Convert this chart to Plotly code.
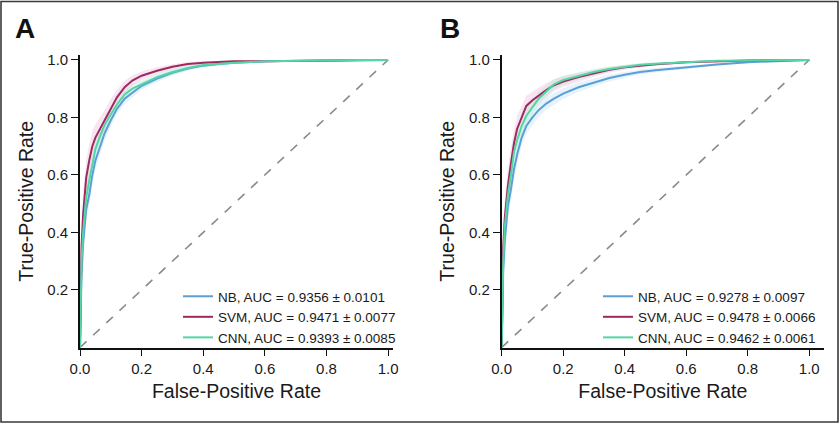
import plotly.graph_objects as go

# ---------------- data ----------------
fpr_grid = [0, 0.002, 0.005, 0.01, 0.015, 0.02, 0.03, 0.04, 0.05, 0.065, 0.08, 0.1, 0.12,
            0.145, 0.17, 0.2, 0.25, 0.3, 0.35, 0.4, 0.45, 0.5, 0.6, 0.7, 0.8, 0.9, 1.0]

# Panel A
a_nb_tpr = [0, 0.12, 0.25, 0.36, 0.43, 0.48, 0.53, 0.60, 0.65, 0.70, 0.745, 0.79, 0.83,
            0.865, 0.885, 0.91, 0.935, 0.955, 0.97, 0.98, 0.986, 0.99, 0.995, 0.997, 0.999, 1.0, 1.0]
a_svm_tpr = [0, 0.20, 0.35, 0.46, 0.54, 0.59, 0.65, 0.70, 0.73, 0.76, 0.79, 0.835, 0.87,
             0.905, 0.928, 0.945, 0.962, 0.976, 0.986, 0.99, 0.993, 0.995, 0.995, 0.996, 0.998, 1.0, 1.0]
a_cnn_tpr = [0, 0.15, 0.30, 0.40, 0.47, 0.52, 0.58, 0.64, 0.69, 0.735, 0.775, 0.81, 0.845,
             0.88, 0.90, 0.915, 0.94, 0.958, 0.972, 0.982, 0.987, 0.99, 0.995, 0.997, 0.999, 1.0, 1.0]
a_nb_std = [0, 0.04, 0.05, 0.05, 0.05, 0.045, 0.04, 0.035, 0.03, 0.028, 0.025, 0.022, 0.02,
            0.018, 0.016, 0.014, 0.012, 0.01, 0.008, 0.006, 0.005, 0.004, 0.003, 0.002, 0.001, 0.001, 0]
a_svm_std = [0, 0.06, 0.07, 0.07, 0.065, 0.06, 0.055, 0.05, 0.045, 0.04, 0.035, 0.03, 0.026,
             0.022, 0.018, 0.015, 0.012, 0.009, 0.007, 0.005, 0.004, 0.003, 0.003, 0.002, 0.002, 0.001, 0]
a_cnn_std = [0, 0.05, 0.06, 0.06, 0.055, 0.05, 0.045, 0.04, 0.035, 0.03, 0.027, 0.024, 0.021,
             0.018, 0.016, 0.014, 0.012, 0.01, 0.008, 0.006, 0.005, 0.004, 0.003, 0.002, 0.001, 0.001, 0]

# Panel B
b_nb_tpr = [0, 0.14, 0.27, 0.37, 0.44, 0.49, 0.55, 0.62, 0.67, 0.73, 0.77, 0.80, 0.825,
            0.848, 0.865, 0.883, 0.905, 0.922, 0.937, 0.948, 0.958, 0.964, 0.975, 0.984, 0.992, 0.997, 1.0]
b_svm_tpr = [0, 0.20, 0.35, 0.45, 0.52, 0.56, 0.64, 0.71, 0.76, 0.80, 0.84, 0.86, 0.877,
             0.895, 0.912, 0.925, 0.94, 0.953, 0.966, 0.974, 0.98, 0.985, 0.992, 0.996, 0.998, 0.999, 1.0]
b_cnn_tpr = [0, 0.17, 0.30, 0.42, 0.49, 0.53, 0.60, 0.68, 0.72, 0.77, 0.805, 0.835, 0.865,
             0.89, 0.915, 0.93, 0.945, 0.958, 0.968, 0.976, 0.983, 0.987, 0.993, 0.997, 0.998, 0.999, 1.0]
b_nb_std = [0, 0.04, 0.05, 0.05, 0.05, 0.045, 0.04, 0.036, 0.033, 0.03, 0.028, 0.026, 0.024,
            0.022, 0.02, 0.018, 0.016, 0.014, 0.012, 0.01, 0.009, 0.008, 0.006, 0.004, 0.003, 0.002, 0]
b_svm_std = [0, 0.06, 0.07, 0.07, 0.065, 0.06, 0.055, 0.05, 0.045, 0.04, 0.035, 0.03, 0.027,
             0.024, 0.021, 0.018, 0.015, 0.012, 0.01, 0.008, 0.006, 0.005, 0.004, 0.003, 0.002, 0.001, 0]
b_cnn_std = [0, 0.05, 0.06, 0.06, 0.055, 0.05, 0.045, 0.04, 0.036, 0.032, 0.028, 0.025, 0.022,
             0.02, 0.018, 0.016, 0.013, 0.011, 0.009, 0.007, 0.006, 0.005, 0.004, 0.003, 0.002, 0.001, 0]

models = ["NB", "SVM", "CNN"]
auc_a = ["0.9356 ± 0.0101", "0.9471 ± 0.0077", "0.9393 ± 0.0085"]
auc_b = ["0.9278 ± 0.0097", "0.9478 ± 0.0066", "0.9462 ± 0.0061"]

x_ticks = [0.0, 0.2, 0.4, 0.6, 0.8, 1.0]
y_ticks = [0.2, 0.4, 0.6, 0.8, 1.0]
panel_labels = ["A", "B"]

# ---------------- styles ----------------
line_colors = {"NB": "#5b9fd6", "SVM": "#9e2a5e", "CNN": "#55d4a4"}
band_colors = {"NB": "rgba(120,190,240,0.18)", "SVM": "rgba(220,120,190,0.20)",
               "CNN": "rgba(110,230,180,0.18)"}
FONT = "Liberation Sans, Arial, sans-serif"
INK = "#1a1a1a"
W, H = 839, 423

fig = go.Figure()

panels = [
    ("x", "y", "legend", auc_a, [a_nb_tpr, a_svm_tpr, a_cnn_tpr], [a_nb_std, a_svm_std, a_cnn_std]),
    ("x2", "y2", "legend2", auc_b, [b_nb_tpr, b_svm_tpr, b_cnn_tpr], [b_nb_std, b_svm_std, b_cnn_std]),
]

for xa, ya, leg, aucs, tprs, stds in panels:
    fig.add_trace(go.Scatter(x=[0, 1], y=[0, 1], mode="lines", xaxis=xa, yaxis=ya,
                             line=dict(color="#8a8a8a", width=1.6, dash="dash"),
                             showlegend=False, hoverinfo="skip"))
    for m, t, s in zip(models, tprs, stds):
        up = [min(1.0, v + d) for v, d in zip(t, s)]
        lo = [max(0.0, v - d) for v, d in zip(t, s)]
        fig.add_trace(go.Scatter(x=fpr_grid + fpr_grid[::-1], y=up + lo[::-1],
                                 fill="toself", fillcolor=band_colors[m], mode="lines",
                                 line=dict(width=0), xaxis=xa, yaxis=ya,
                                 showlegend=False, hoverinfo="skip"))
    for m, t, a in zip(models, tprs, aucs):
        fig.add_trace(go.Scatter(x=fpr_grid, y=t, mode="lines", xaxis=xa, yaxis=ya,
                                 line=dict(color=line_colors[m], width=2),
                                 name=f"{m}, AUC = {a}", legend=leg))

def px_x(p):
    return p / W

def px_y(p):
    return 1 - p / H

axis_common = dict(showgrid=False, zeroline=False, showline=True, linecolor="#111",
                   linewidth=1.6, ticks="outside", ticklen=7, tickwidth=1.3,
                   tickcolor="#111", tickfont=dict(family=FONT, size=15, color=INK),
                   title_font=dict(family=FONT, size=19.5, color=INK), automargin=False)

fig.update_layout(
    width=W, height=H, margin=dict(l=0, r=0, t=0, b=0, autoexpand=False),
    paper_bgcolor="white", plot_bgcolor="white",
    font=dict(family=FONT, color=INK),
    xaxis=dict(domain=[px_x(80), px_x(393)], range=[0, 1.016], anchor="y",
               tickvals=x_ticks, tickformat=".1f",
               title=dict(text="False-Positive Rate", standoff=8), **axis_common),
    yaxis=dict(domain=[px_y(347.5), px_y(55)], range=[0, 1.017], anchor="x",
               tickvals=y_ticks, tickformat=".1f",
               title=dict(text="True-Positive Rate", standoff=9), **axis_common),
    xaxis2=dict(domain=[px_x(501.7), px_x(824)], range=[0, 1.048], anchor="y2",
                tickvals=x_ticks, tickformat=".1f",
                title=dict(text="False-Positive Rate", standoff=8), **axis_common),
    yaxis2=dict(domain=[px_y(347.5), px_y(55)], range=[0, 1.017], anchor="x2",
                tickvals=y_ticks, tickformat=".1f",
                title=dict(text="True-Positive Rate", standoff=9), **axis_common),
    legend=dict(x=px_x(178), y=px_y(281), xanchor="left", yanchor="top",
                bgcolor="rgba(0,0,0,0)", font=dict(family=FONT, size=13.5, color=INK),
                tracegroupgap=0, itemwidth=30),
    legend2=dict(x=px_x(598), y=px_y(281), xanchor="left", yanchor="top",
                 bgcolor="rgba(0,0,0,0)", font=dict(family=FONT, size=13.5, color=INK),
                 tracegroupgap=0, itemwidth=30),
    shapes=[dict(type="rect", xref="paper", yref="paper",
                 x0=px_x(1), x1=px_x(838), y0=px_y(422), y1=px_y(1.5),
                 line=dict(color="#3a3a3a", width=1.6))],
    annotations=[
        dict(text=f"<b>{panel_labels[0]}</b>", x=px_x(13), y=px_y(11), xref="paper", yref="paper",
             xanchor="left", yanchor="top", showarrow=False,
             font=dict(family=FONT, size=28, color="#111")),
        dict(text=f"<b>{panel_labels[1]}</b>", x=px_x(438), y=px_y(11), xref="paper", yref="paper",
             xanchor="left", yanchor="top", showarrow=False,
             font=dict(family=FONT, size=28, color="#111")),
    ],
)

fig.write_html("out.html",
               config={"displayModeBar": False, "responsive": False},
               post_script="document.body.style.margin='0px';")
